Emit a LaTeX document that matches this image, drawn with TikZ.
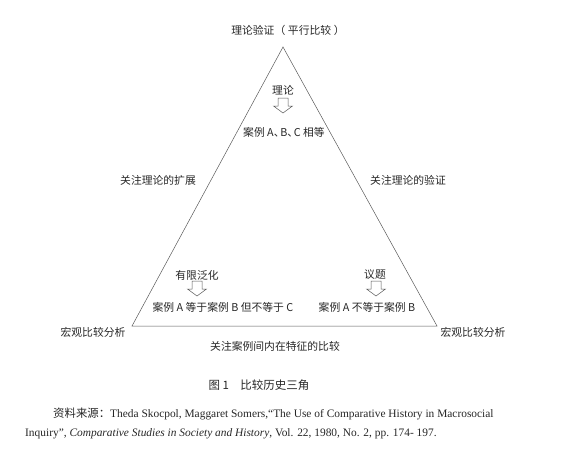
\documentclass[tikz,border=0pt]{standalone}
\usepackage{fontspec}
\setmainfont{Liberation Serif}
\newfontfamily\cjk{Noto Sans CJK SC}
\definecolor{ink}{gray}{0.15}
\definecolor{edge}{gray}{0.35}
\begin{document}
\begin{tikzpicture}[x=1pt,y=-1pt,
  lab/.style={font=\cjk\fontsize{10.8}{12}\selectfont, text=ink, inner sep=0pt},
  cite/.style={font=\fontsize{11.4}{13}\selectfont, text=ink, inner sep=0pt, anchor=base west},
  tri/.style={draw=edge, line width=0.5pt},
  harrow/.style={draw=edge, line width=0.5pt, fill=white}]
\useasboundingbox (0,0) rectangle (572,456);
\coordinate (A) at (283,47);
\coordinate (L) at (132,326);
\coordinate (R) at (437,326);
\draw[tri] (A) -- (L) -- (R) -- cycle;

\node[lab] (top) at (288,30) {理论验证（\hspace{0.25em}平行比较\hspace{0.25em}）};
\node[lab] (t1) at (283,90) {理论};
\node[lab] (t2) at (284,132) {案例 A、\kern-0.4emB、\kern-0.4emC 相等};
\node[lab] (sl) at (158,180) {关注理论的扩展};
\node[lab] (sr) at (408,180) {关注理论的验证};
\node[lab] (l1) at (197,275) {有限泛化};
\node[lab] (l2) at (223,307) {案例 A 等于案例 B 但不等于 C};
\node[lab] (r1) at (375,275) {议题};
\node[lab] (r2) at (367,307) {案例 A 不等于案例 B};
\node[lab] (cl) at (93,332) {宏观比较分析};
\node[lab] (cr) at (473,332) {宏观比较分析};
\node[lab] (bot) at (275,346) {关注案例间内在特征的比较};

\foreach \cx in {283} {
  \draw[harrow] (\cx-5,98) -- (\cx+5,98) -- (\cx+5,106) -- (\cx+9.5,106) -- (\cx,113) -- (\cx-9.5,106) -- (\cx-5,106) -- cycle;
}
\foreach \cx in {197,376} {
  \draw[harrow] (\cx-5,281) -- (\cx+5,281) -- (\cx+5,289) -- (\cx+9.5,289) -- (\cx,296) -- (\cx-9.5,289) -- (\cx-5,289) -- cycle;
}

\node[font=\cjk\fontsize{11.5}{13}\selectfont, text=ink, inner sep=0pt] (cap) at (259,385) {图 1\hspace{1em}比较历史三角};
\node[cite] (c1) at (53,417) {{\cjk 资料来源：}Theda Skocpol, Maggaret Somers,“The Use of Comparative History in Macrosocial};
\node[cite] (c2) at (25,436) {Inquiry”, \textit{Comparative Studies in Society and History}, Vol. 22, 1980, No. 2, pp. 174- 197.};
\end{tikzpicture}
\end{document}
